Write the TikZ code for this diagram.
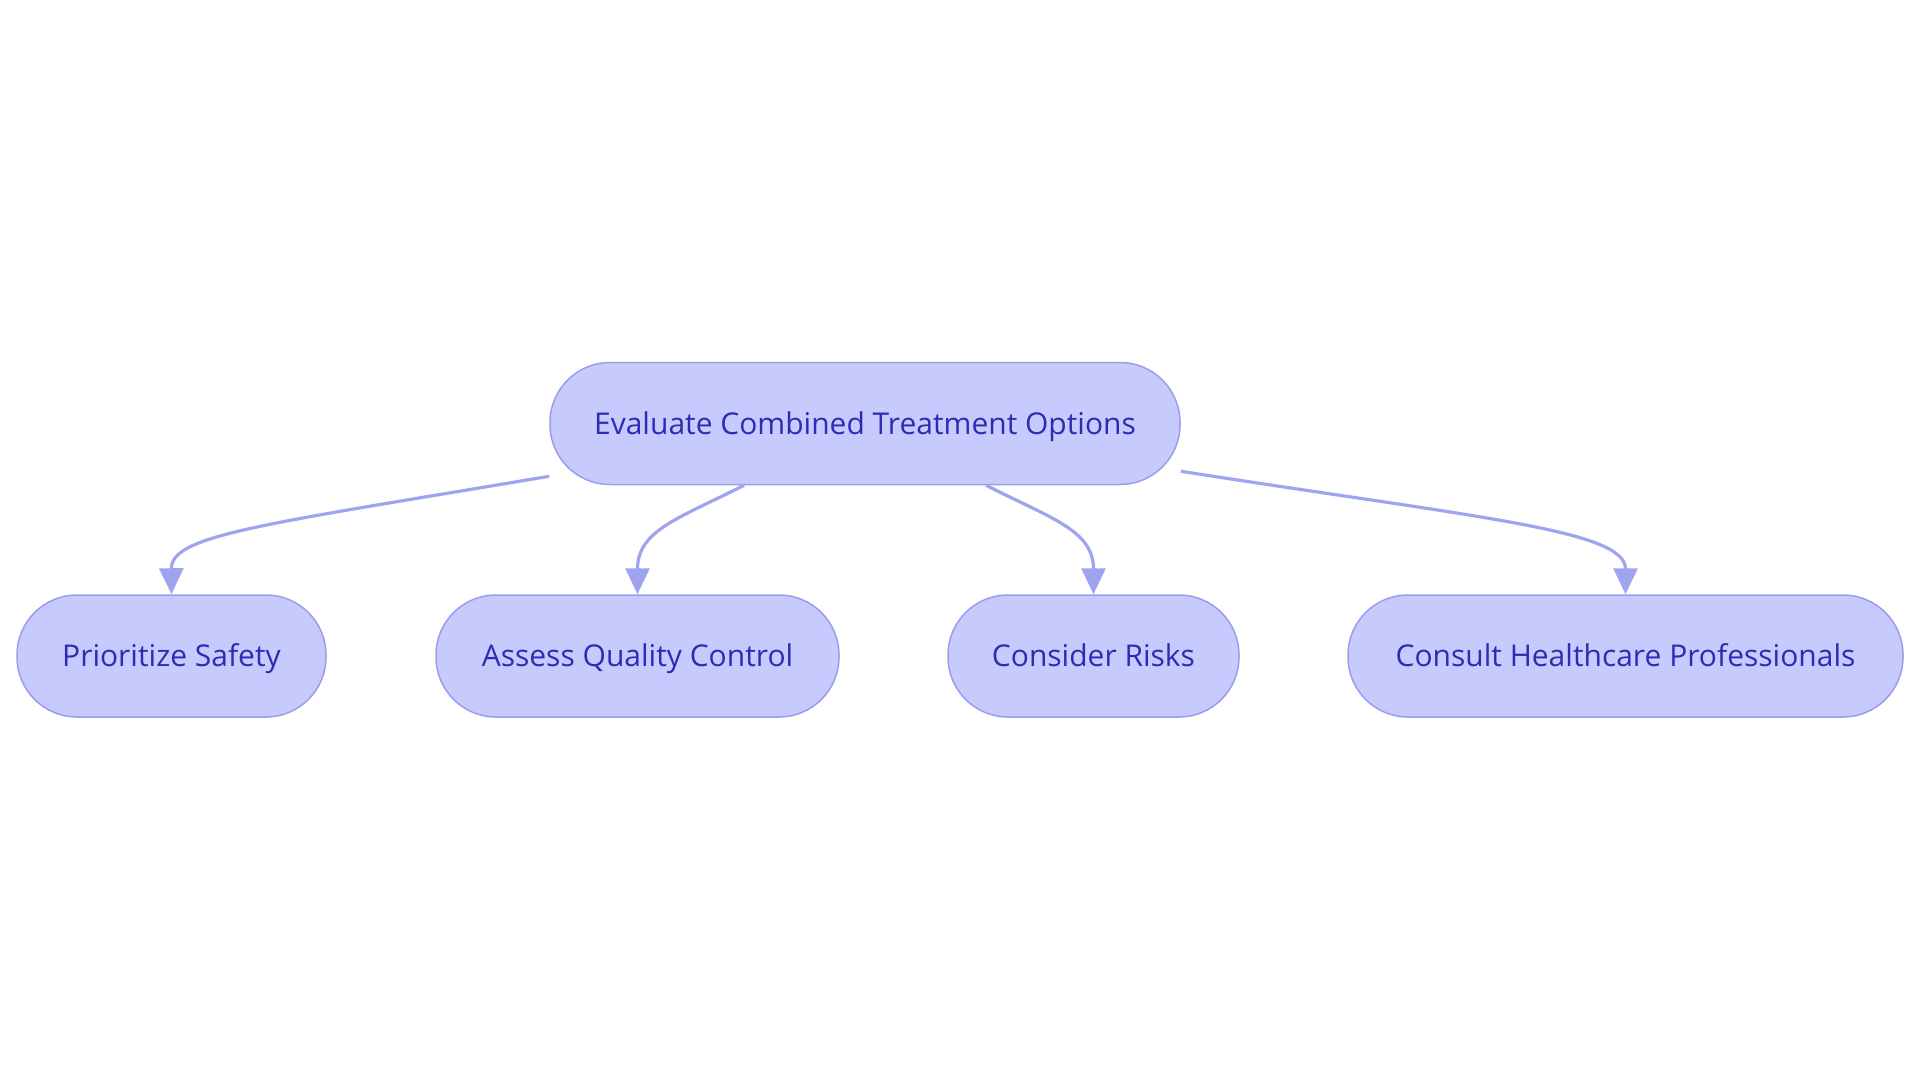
\documentclass[tikz,border=0pt]{standalone}
\usepackage{fontspec}
\setmainfont{Open Sans}
\usetikzlibrary{arrows.meta}
\definecolor{nodefill}{HTML}{C7CAFC}
\definecolor{nodeline}{HTML}{9A9EEA}
\definecolor{textcol}{HTML}{2C2DB5}
\definecolor{edgecol}{HTML}{A0A3EE}
\begin{document}
\begin{tikzpicture}[x=1pt,y=-1pt,
 box/.style={draw=nodeline, fill=nodefill, line width=1.5pt, rounded corners=60pt, minimum height=122pt, text=textcol, font=\fontsize{30}{36}\selectfont, inner sep=0pt, text height=24pt, text depth=3pt},
 edge/.style={draw=edgecol, line width=3.2pt, -{Triangle[width=24pt,length=26pt]}}]
\useasboundingbox (0,0) rectangle (1920,1083);
\node[box, minimum width=630pt] (top) at (865,423.5) {Evaluate Combined Treatment Options};
\node[box, minimum width=309pt] (ps) at (171.5,656) {Prioritize Safety};
\node[box, minimum width=403pt] (aq) at (637.5,656) {Assess Quality Control};
\node[box, minimum width=291pt] (cr) at (1093.5,656) {Consider Risks};
\node[box, minimum width=555pt] (ch) at (1625.5,656) {Consult Healthcare Professionals};
\draw[edge] ([yshift=9pt]top.south west) .. controls (260,525) and (171,535) .. (ps.north);
\draw[edge] ([xshift=-121pt]top.south) .. controls (680,518) and (637.5,530) .. (aq.north);
\draw[edge] ([xshift=121pt]top.south) .. controls (1050,518) and (1093.5,530) .. (cr.north);
\draw[edge] ([yshift=14pt]top.south east) .. controls (1480,518) and (1625.5,530) .. (ch.north);
\end{tikzpicture}
\end{document}
